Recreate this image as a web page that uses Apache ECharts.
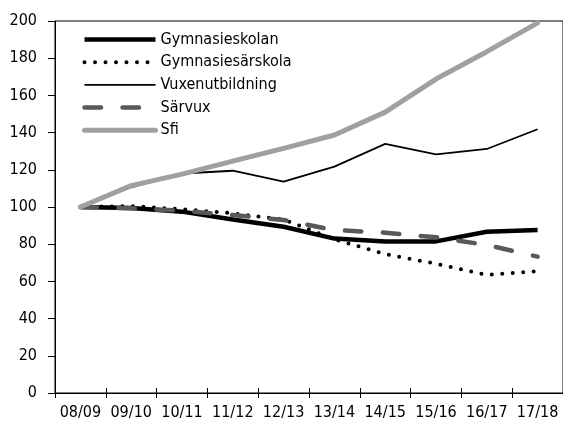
<!DOCTYPE html>
<html>
<head>
<meta charset="utf-8">
<script src="https://cdn.jsdelivr.net/npm/echarts@6/dist/echarts.min.js"></script>
<style>
html, body { margin: 0; padding: 0; background: #fff; }
#main { width: 563px; height: 424px; }
</style>
</head>
<body>
<div id="main"></div>
<script>
// läsår
const categories = ['08/09', '09/10', '10/11', '11/12', '12/13', '13/14', '14/15', '15/16', '16/17', '17/18'];
// index, 08/09 = 100
const gymnasieskolan = [100, 99.5, 97.5, 93.3, 89.4, 83, 81.5, 81.5, 86.7, 87.6];
const gymnasiesarskola = [100, 100.5, 98.8, 96.6, 93.3, 82.6, 74.7, 69.5, 63.5, 65.5];
const vuxenutbildning = [100, 110.6, 118, 119.5, 113.6, 121.7, 133.9, 128.3, 131.2, 141.8];
const sarvux = [100, 99.3, 98, 95.7, 93, 87.6, 86.2, 83.7, 79.6, 73.3];
const sfi = [100, 111.5, 117.7, 124.7, 131.5, 138.7, 151, 168.8, 183.5, 199];

const font = "'DejaVu Sans Condensed', 'Liberation Sans Narrow', sans-serif";

let chart = echarts.init(document.getElementById('main'), null, { renderer: 'canvas' });

chart.setOption({
    animation: false,
    textStyle: { fontFamily: font },
    grid: {
        left: 55,
        top: 21,
        width: 510,
        height: 372,
        show: true,
        borderColor: '#000',
        borderWidth: 1,
        backgroundColor: 'transparent'
    },
    legend: {
        orient: 'vertical',
        left: 82,
        top: 31,
        padding: 0,
        itemWidth: 71,
        itemHeight: 17,
        itemGap: 5.7,
        itemStyle: { opacity: 0 },
        lineStyle: { width: 'inherit' },
        textStyle: { fontFamily: font, fontSize: 16, color: '#000', lineHeight: 17 },
        data: ['Gymnasieskolan', 'Gymnasiesärskola', 'Vuxenutbildning', 'Särvux', 'Sfi']
    },
    xAxis: [{
        type: 'category',
        data: categories,
        boundaryGap: true,
        axisLine: { lineStyle: { color: '#000', width: 1 } },
        axisTick: { show: true, length: 5, lineStyle: { color: '#000' } },
        axisLabel: { color: '#000', fontSize: 16, fontFamily: font, margin: 12, interval: 0 }
    }, {
        // inre tickar så att de korsar axeln
        type: 'category',
        data: categories,
        position: 'bottom',
        axisLine: { show: false },
        axisTick: { show: true, inside: true, length: 5, lineStyle: { color: '#000' } },
        axisLabel: { show: false }
    }],
    yAxis: {
        type: 'value',
        min: 0,
        max: 200,
        interval: 20,
        splitLine: { show: false },
        axisLine: { show: true, lineStyle: { color: '#000', width: 1 } },
        axisTick: { show: true, length: 7, lineStyle: { color: '#000' } },
        axisLabel: { color: '#000', fontSize: 16, fontFamily: font, margin: 18 }
    },
    series: [{
        name: 'Gymnasieskolan',
        type: 'line',
        symbol: 'none',
        data: gymnasieskolan,
        itemStyle: { color: '#000' },
        lineStyle: { color: '#000', width: 4.5, join: 'round' }
    }, {
        name: 'Gymnasiesärskola',
        type: 'line',
        symbol: 'none',
        data: gymnasiesarskola,
        itemStyle: { color: '#000' },
        lineStyle: { color: '#000', width: 4, type: [0, 10.5], cap: 'round' }
    }, {
        name: 'Vuxenutbildning',
        type: 'line',
        symbol: 'none',
        data: vuxenutbildning,
        itemStyle: { color: '#000' },
        lineStyle: { color: '#000', width: 1.8 }
    }, {
        name: 'Särvux',
        type: 'line',
        symbol: 'none',
        data: sarvux,
        itemStyle: { color: '#595959' },
        lineStyle: { color: '#595959', width: 4.5, type: [16.5, 21.5], cap: 'round' }
    }, {
        name: 'Sfi',
        type: 'line',
        symbol: 'none',
        data: sfi,
        itemStyle: { color: '#a0a0a0' },
        lineStyle: { color: '#a0a0a0', width: 5, cap: 'round', join: 'round' }
    }]
});
</script>
</body>
</html>
